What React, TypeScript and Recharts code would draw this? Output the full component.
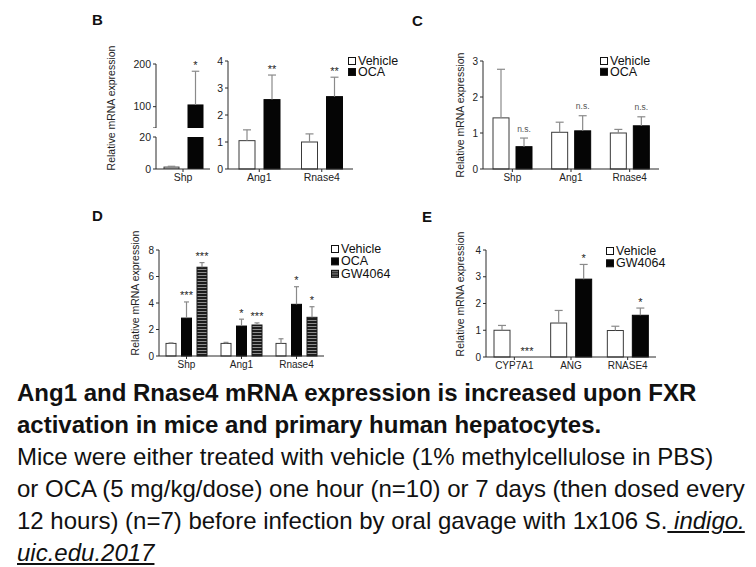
import React from 'react';
import { BarChart, Bar, XAxis, YAxis } from 'recharts';

const FONT = '"Liberation Sans", Arial, Helvetica, sans-serif';
const AXIS = '#2b2b2b';
const ERR = '#8a8a8a';

// Panel B, Shp (broken axis)
const bShpCats = ['Shp'];
const bShpVehicle = [1.2];
const bShpVehicleSem = [0.5];
const bShpOca = [104];
const bShpOcaSem = [79];
const bShpOcaSig = ['*'];

// Panel B, Ang1 / Rnase4
const bCats = ['Ang1', 'Rnase4'];
const bVehicle = [1.05, 1.0];
const bVehicleSem = [0.4, 0.3];
const bOca = [2.57, 2.68];
const bOcaSem = [0.91, 0.72];
const bOcaSig = ['**', '**'];

// Panel C
const cCats = ['Shp', 'Ang1', 'Rnase4'];
const cVehicle = [1.42, 1.02, 1.0];
const cVehicleSem = [1.35, 0.28, 0.1];
const cOca = [0.62, 1.06, 1.2];
const cOcaSem = [0.24, 0.42, 0.25];
const cOcaSig = ['n.s.', 'n.s.', 'n.s.'];

// Panel D
const dCats = ['Shp', 'Ang1', 'Rnase4'];
const dVehicle = [0.95, 0.95, 0.95];
const dVehicleSem = [0.04, 0.08, 0.35];
const dOca = [2.86, 2.26, 3.9];
const dOcaSem = [1.22, 0.52, 1.33];
const dOcaSig = ['***', '*', '*'];
const dGw = [6.7, 2.34, 2.92];
const dGwSem = [0.35, 0.16, 0.8];
const dGwSig = ['***', '***', '*'];

// Panel E
const eCats = ['CYP7A1', 'ANG', 'RNASE4'];
const eVehicle = [1.0, 1.27, 0.99];
const eVehicleSem = [0.18, 0.47, 0.16];
const eGw = [0, 2.91, 1.56];
const eGwSem = [0, 0.55, 0.27];
const eGwSig = ['***', '*', '*'];

const ticks04 = [0, 1, 2, 3, 4];
const ticks03 = [0, 1, 2, 3];
const ticks08 = [0, 2, 4, 6, 8];

type Kind = 'open' | 'solid' | 'striped';
type Series = { key: string; name: string; values: number[]; sems: number[]; sig?: string[]; kind: Kind };

const look: Record<Kind, { fill: string; stroke: string }> = {
  open: { fill: '#ffffff', stroke: '#3a3a3a' },
  solid: { fill: '#050505', stroke: '#050505' },
  striped: { fill: 'url(#gwStripes)', stroke: '#1a1a1a' },
};

// bar + upward SEM whisker + significance mark, scaled from the bar's own pixel height
const makeShape = (s: Series, base: number, top: number) => (props: any) => {
  const { x, y, width, height, payload } = props;
  const v = payload?.[s.key];
  if (v == null) return <g />;
  const sem = payload[s.key + 'Sem'] || 0;
  const sig = payload[s.key + 'Sig'];
  const inside = v <= top;
  const span = v - base;
  const k = span > 0 && height > 0 ? height / span : 0;
  const cx = x + width / 2;
  const ey = y - sem * k;
  const cap = width / 4;
  const isWord = sig && /[a-z]/.test(sig);
  const { fill, stroke } = look[s.kind];
  return (
    <g>
      <rect x={x} y={y} width={width} height={Math.max(0, height)} fill={fill} stroke={stroke} strokeWidth={1} />
      {inside && sem > 0 && k > 0 && (
        <g stroke={ERR} strokeWidth={1.2}>
          <line x1={cx} x2={cx} y1={y} y2={ey} />
          <line x1={cx - cap} x2={cx + cap} y1={ey} y2={ey} />
        </g>
      )}
      {inside && sig && (
        <text
          x={cx}
          y={ey - (isWord ? 6.5 : 2.5)}
          textAnchor="middle"
          fontSize={isWord ? 8.5 : 11}
          fill={isWord ? '#555' : '#222'}
        >
          {sig}
        </text>
      )}
    </g>
  );
};

type PanelProps = {
  plot: { x0: number; x1: number; y0: number; y1: number };
  cats: string[];
  series: Series[];
  domain: [number, number];
  ticks: number[];
  barSize: number;
  barGap: number;
  showX?: boolean;
  clip?: boolean;
  floor?: number;
  hideTick?: number;
  fontSize?: number;
};

const YW = 34;
const TOP = 24;
const RIGHT = 4;
const XH = 22;

const Panel = (p: PanelProps) => {
  const { x0, x1, y0, y1 } = p.plot;
  const xh = p.showX ? XH : 0;
  const fs = p.fontSize ?? 10;
  const base = Math.max(0, p.domain[0]);
  const data = p.cats.map((cat, i) => {
    const row: any = { cat };
    p.series.forEach((s) => {
      const v = s.values[i];
      row[s.key] = p.floor !== undefined && v <= p.floor ? null : v;
      row[s.key + 'Sem'] = s.sems[i];
      row[s.key + 'Sig'] = s.sig ? s.sig[i] : '';
    });
    return row;
  });
  const tickStyle = { fontSize: fs, fill: '#222', fontFamily: FONT };
  return (
    <div style={{ position: 'absolute', left: x0 - YW, top: y0 - TOP }}>
      <BarChart
        width={x1 - x0 + YW + RIGHT}
        height={TOP + (y1 - y0) + xh}
        data={data}
        margin={{ top: TOP, right: RIGHT, bottom: 0, left: 0 }}
        barSize={p.barSize}
        barGap={p.barGap}
      >
        <XAxis
          dataKey="cat"
          hide={!p.showX}
          height={XH}
          tickSize={3}
          tick={tickStyle}
          axisLine={{ stroke: AXIS }}
          tickLine={{ stroke: AXIS }}
          interval={0}
        />
        <YAxis
          width={YW}
          type="number"
          domain={p.domain}
          ticks={p.ticks}
          allowDataOverflow={!!p.clip}
          tickSize={3}
          tick={tickStyle}
          axisLine={{ stroke: AXIS }}
          tickLine={{ stroke: AXIS }}
          interval={0}
          tickFormatter={(v: number) => (v === p.hideTick ? '' : String(v))}
        />
        {p.series.map((s) => (
          <Bar
            key={s.key}
            dataKey={s.key}
            name={s.name}
            fill={look[s.kind].fill}
            shape={makeShape(s, base, p.clip ? p.domain[1] : Infinity)}
            isAnimationActive={false}
          />
        ))}
      </BarChart>
    </div>
  );
};

const LegendBox = ({ x, y, step, items }: { x: number; y: number; step: number; items: Series[] }) => (
  <g>
    {items.map((s, i) => (
      <g key={s.key}>
        <rect
          x={x + 0.5}
          y={y + i * step + 0.5}
          width={7}
          height={7}
          fill={s.kind === 'striped' ? 'url(#gwStripesL)' : look[s.kind].fill}
          stroke="#111"
        />
        <text x={x + 10} y={y + i * step + 8} fontSize={12.5} fill="#111">
          {s.name}
        </text>
      </g>
    ))}
  </g>
);

const yTitle = 'Relative mRNA expression';

export default function App() {
  const bShpSeries: Series[] = [
    { key: 'veh', name: 'Vehicle', values: bShpVehicle, sems: bShpVehicleSem, kind: 'open' },
    { key: 'oca', name: 'OCA', values: bShpOca, sems: bShpOcaSem, sig: bShpOcaSig, kind: 'solid' },
  ];
  const bSeries: Series[] = [
    { key: 'veh', name: 'Vehicle', values: bVehicle, sems: bVehicleSem, kind: 'open' },
    { key: 'oca', name: 'OCA', values: bOca, sems: bOcaSem, sig: bOcaSig, kind: 'solid' },
  ];
  const cSeries: Series[] = [
    { key: 'veh', name: 'Vehicle', values: cVehicle, sems: cVehicleSem, kind: 'open' },
    { key: 'oca', name: 'OCA', values: cOca, sems: cOcaSem, sig: cOcaSig, kind: 'solid' },
  ];
  const dSeries: Series[] = [
    { key: 'veh', name: 'Vehicle', values: dVehicle, sems: dVehicleSem, kind: 'open' },
    { key: 'oca', name: 'OCA', values: dOca, sems: dOcaSem, sig: dOcaSig, kind: 'solid' },
    { key: 'gw', name: 'GW4064', values: dGw, sems: dGwSem, sig: dGwSig, kind: 'striped' },
  ];
  const eSeries: Series[] = [
    { key: 'veh', name: 'Vehicle', values: eVehicle, sems: eVehicleSem, kind: 'open' },
    { key: 'gw', name: 'GW4064', values: eGw, sems: eGwSem, sig: eGwSig, kind: 'solid' },
  ];

  const title = (x: number, y: number) => (
    <text x={x} y={y} transform={`rotate(-90 ${x} ${y})`} textAnchor="middle" dominantBaseline="central" fontSize={10.5} fill="#222">
      {yTitle}
    </text>
  );

  const line: React.CSSProperties = { whiteSpace: 'nowrap', height: 32 };

  return (
    <div style={{ position: 'absolute', left: 0, top: 0, width: 756, height: 567, background: '#fff', fontFamily: FONT, overflow: 'hidden' }}>
      <svg width={0} height={0} style={{ position: 'absolute' }}>
        <defs>
          <pattern id="gwStripes" width={4} height={3} patternUnits="userSpaceOnUse">
            <rect width={4} height={3} fill="#1c1c1c" />
            <rect y={1} width={4} height={1} fill="#8e8e8e" />
          </pattern>
          <pattern id="gwStripesL" width={4} height={2.5} patternUnits="userSpaceOnUse">
            <rect width={4} height={2.5} fill="#1c1c1c" />
            <rect y={1} width={4} height={1} fill="#8e8e8e" />
          </pattern>
        </defs>
      </svg>

      {/* B */}
      <Panel plot={{ x0: 156, x1: 210, y0: 64, y1: 128 }} cats={bShpCats} series={bShpSeries} domain={[50, 200]} ticks={[50, 100, 200]} hideTick={50} floor={50} barSize={15} barGap={9} fontSize={10.5} />
      <Panel plot={{ x0: 156, x1: 210, y0: 137, y1: 169 }} cats={bShpCats} series={bShpSeries} domain={[0, 20]} ticks={[0, 20]} clip showX barSize={15} barGap={9} fontSize={10.5} />
      <Panel plot={{ x0: 228, x1: 353, y0: 61, y1: 169 }} cats={bCats} series={bSeries} domain={[0, 4]} ticks={ticks04} showX barSize={16} barGap={9} fontSize={10.5} />

      {/* C */}
      <Panel plot={{ x0: 483, x1: 659, y0: 61, y1: 169 }} cats={cCats} series={cSeries} domain={[0, 3]} ticks={ticks03} showX barSize={16} barGap={7} />

      {/* D */}
      <Panel plot={{ x0: 159, x1: 324, y0: 250, y1: 356 }} cats={dCats} series={dSeries} domain={[0, 8]} ticks={ticks08} showX barSize={10} barGap={5.5} />

      {/* E */}
      <Panel plot={{ x0: 486, x1: 656, y0: 250, y1: 357 }} cats={eCats} series={eSeries} domain={[0, 4]} ticks={ticks04} showX barSize={16} barGap={9} />

      <svg width={756} height={380} style={{ position: 'absolute', left: 0, top: 0, pointerEvents: 'none' }} fontFamily={FONT}>
        <g fontSize={15} fontWeight="bold" fill="#111">
          <text x={92} y={25}>B</text>
          <text x={412} y={26}>C</text>
          <text x={92} y={221}>D</text>
          <text x={422} y={222}>E</text>
        </g>
        {title(111, 108)}
        {title(460, 115)}
        {title(135, 293)}
        {title(460, 294)}
        <LegendBox x={348} y={57} step={11} items={bSeries} />
        <LegendBox x={600} y={57} step={10.8} items={cSeries} />
        <LegendBox x={331} y={245} step={12.4} items={dSeries} />
        <LegendBox x={606} y={247} step={12.3} items={eSeries} />
      </svg>

      <div style={{ position: 'absolute', left: 17, top: 377, fontSize: 24, lineHeight: '32px', color: '#111' }}>
        <div style={{ ...line, fontWeight: 'bold' }}>Ang1 and Rnase4 mRNA expression is increased upon FXR</div>
        <div style={{ ...line, fontWeight: 'bold' }}>activation in mice and primary human hepatocytes.</div>
        <div style={line}>Mice were either treated with vehicle (1% methylcellulose in PBS)</div>
        <div style={line}>or OCA (5 mg/kg/dose) one hour (n=10) or 7 days (then dosed every</div>
        <div style={line}>
          12 hours) (n=7) before infection by oral gavage with 1x106 S.
          <u>
            <i> indigo.</i>
          </u>
        </div>
        <div style={line}>
          <u>
            <i>uic.edu.2017</i>
          </u>
        </div>
      </div>
    </div>
  );
}
